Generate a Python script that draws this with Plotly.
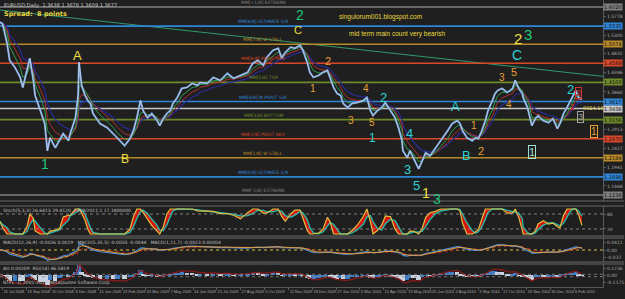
import plotly.graph_objects as go
import pandas as pd
import numpy as np

# ---------------- data ----------------
bars = [0, 3, 8, 11, 17, 23, 26, 31, 34, 38, 40, 46, 51, 54, 57, 63, 68, 72, 78, 80,
        86, 89, 90, 93, 97, 100, 103, 106, 114, 122, 129, 134, 142, 148, 152, 156, 160, 163, 168, 173,
        179, 182, 186, 190, 194, 197, 202, 207, 213, 219, 225, 228, 236, 243, 251, 259, 266, 274, 282, 288,
        294, 300, 304, 311, 317, 321, 325, 331, 336, 342, 345, 350, 353, 357, 363, 368, 373, 376, 380, 384,
        388, 391, 396, 401, 407, 414, 418, 422, 425, 430, 435, 439, 445, 450, 454, 458, 459, 464, 467, 471,
        477, 481, 485, 490, 496, 502, 510, 515, 521, 524, 527, 532, 538, 542, 545, 549, 553, 556, 561, 564,
        567, 572, 578, 584, 587, 591, 595, 596, 601, 604, 606, 610, 613, 619, 625, 630, 635, 638, 642, 646,
        650, 653, 656, 659, 663]
close = [1.5637, 1.5586, 1.5100, 1.4665, 1.4486, 1.4230, 1.3975, 1.4409, 1.4716, 1.4154, 1.3770, 1.3386, 1.3054, 1.2363, 1.2695, 1.2440, 1.2619, 1.2798, 1.2619, 1.2798,
         1.3207, 1.3770, 1.4614, 1.4026, 1.3770, 1.3642, 1.3565, 1.3309, 1.3054, 1.2951, 1.2798, 1.2670, 1.2491, 1.2670, 1.2874, 1.3207, 1.3642, 1.3386, 1.3207, 1.3309,
         1.3130, 1.3002, 1.3182, 1.3309, 1.3386, 1.3565, 1.3719, 1.3949, 1.3975, 1.4077, 1.4026, 1.4102, 1.4077, 1.4230, 1.4154, 1.4333, 1.4205, 1.4281, 1.4358, 1.4588,
         1.4665, 1.4537, 1.4742, 1.4921, 1.4972, 1.4716, 1.4870, 1.4998, 1.4972, 1.5049, 1.4921, 1.4614, 1.4358, 1.4230, 1.4281, 1.4358, 1.4409, 1.4230, 1.3975, 1.3821,
         1.3770, 1.3565, 1.3463, 1.3565, 1.3591, 1.3642, 1.3719, 1.3386, 1.3258, 1.3386, 1.3463, 1.3591, 1.3386, 1.3207, 1.2951, 1.2619, 1.2363, 1.2184, 1.2363, 1.2184,
         1.1902, 1.2107, 1.2312, 1.2235, 1.2440, 1.2619, 1.2874, 1.3054, 1.3130, 1.3054, 1.2874, 1.2695, 1.2619, 1.2695, 1.2670, 1.2874, 1.3130, 1.3386, 1.3642, 1.3821,
         1.3898, 1.3949, 1.3847, 1.3949, 1.4154, 1.3949, 1.3821, 1.3719, 1.3463, 1.3207, 1.3002, 1.3182, 1.3258, 1.3130, 1.3079, 1.3182, 1.2926, 1.3054, 1.3309, 1.3463,
         1.3642, 1.3770, 1.3898, 1.3719, 1.3668]

level_prices = [1.6020, 1.5535, 1.5074, 1.4589, 1.4103, 1.3617, 1.3438, 1.3156, 1.2670, 1.2184, 1.1698, 1.1238]
level_colors = ['#808080', '#2f86d8', '#b8892a', '#d9482a', '#6f8a2a', '#2f86d8', '#c8c8c8',
                '#6f8a2a', '#d9482a', '#b8892a', '#2f86d8', '#808080']
level_names = ['MM[+1/8] EXTREME', 'MM[8/8] ULTIMATE S/R', 'MM[7/8] W STALL', 'MM[6/8] PIVOT REV',
               'MM[5/8] TOP', 'MM[4/8] M PIVOT S/R', '', 'MM[3/8] BOTTOM', 'MM[2/8] PIVOT REV',
               'MM[1/8] W STALL', 'MM[0/8] ULTIMATE S/R', 'MM[-1/8] EXTREME']
price_ticks = [1.5778, 1.5305, 1.4832, 1.4346, 1.3860, 1.2913, 1.2427, 1.1941, 1.1468]

trend_bars = [0, 687]
trend_prices = [1.5944, 1.4256]

tick_bars = [3, 30, 58, 85, 112, 139, 166, 193, 220, 247, 274, 301, 329, 356, 383,
             410, 437, 464, 491, 518, 545, 572, 600, 627, 654]
tick_text = ['21 Jul 2008', '13 Sep 2008', '20 Oct 2008', '8 Dec 2008', '15 Jan 2009', '22 Feb 2009',
             '31 Mar 2009', '7 May 2009', '14 Jun 2009', '21 Jul 2009', '27 Aug 2009', '5 Oct 2009',
             '11 Nov 2009', '18 Dec 2009', '27 Jan 2010', '5 Mar 2010', '12 Apr 2010', '19 May 2010',
             '25 Jun 2010', '2 Aug 2010', '9 Sep 2010', '17 Oct 2010', '23 Nov 2010', '30 Dec 2010',
             '6 Feb 2011']

# Elliott wave labels: bar, price, text, colour, size, boxed
wave_bar = [88, 51, 142, 342, 340, 590, 601, 589, 357, 374, 400, 417, 424, 437, 424, 467, 464, 475, 485, 498,
            519, 540, 532, 548, 572, 586, 580, 650, 606, 677, 659, 652, 661]
wave_price = [1.4793, 1.2031, 1.2159, 1.5816, 1.5432, 1.5228, 1.5330, 1.4793, 1.3949, 1.4640, 1.3131, 1.3949,
              1.3080, 1.3719, 1.2696, 1.2798, 1.1878, 1.1468, 1.1289, 1.1136,
              1.3489, 1.3003, 1.2236, 1.2363, 1.4230, 1.4358, 1.3540, 1.3924, 1.2338, 1.2849, 1.3821, 1.3489, 1.3233]
wave_text = ['A', '1', 'B', '2', 'C', '2', '3', 'C', '1', '2', '3', '4', '5', '2', '1', '4', '3', '5', '1', '3',
             'A', '1', 'B', '2', '3', '5', '4', '2', '1', '1', '2', '1', '3']
wave_color = ['#f0e040', '#22c87a', '#f0e040', '#22c87a', '#f0e040', '#f0e040', '#22c87a', '#2ad4d4',
              '#e8a030', '#e8a030', '#e8a030', '#e8a030', '#e8a030', '#2ad4d4', '#2ad4d4', '#2ad4d4',
              '#2ad4d4', '#2ad4d4', '#f0e040', '#22c87a',
              '#2ad4d4', '#e8a030', '#2ad4d4', '#e8a030', '#e8a030', '#e8a030', '#e8a030', '#2ad4d4',
              '#a0e0d0', '#e8a030', '#d03030', '#d03030', '#a0a0a0']
wave_size = [13, 14, 12, 14, 11, 15, 15, 14, 10, 11, 10, 10, 10, 13, 12, 13, 13, 13, 14, 14,
             13, 10, 13, 11, 10, 11, 10, 13, 11, 10, 9, 9, 9]
wave_box = [0] * 28 + [1, 1, 1, 0, 1]

# ---------------- derived indicators ----------------
s = pd.Series(close, dtype=float)
ma_fast = s.ewm(span=3, adjust=False).mean()
ma_mid = s.ewm(span=5, adjust=False).mean()
ma_slow = s.ewm(span=8, adjust=False).mean()

hh = s.rolling(5, min_periods=1).max()
ll = s.rolling(5, min_periods=1).min()
rng = (hh - ll).replace(0, np.nan)
stoch_k = (100 * (s - ll) / rng).fillna(50).rolling(2, min_periods=1).mean()
stoch_d = stoch_k.rolling(3, min_periods=1).mean()

macd = s.ewm(span=4, adjust=False).mean() - s.ewm(span=9, adjust=False).mean()
macd_sig = macd.ewm(span=3, adjust=False).mean()
macd_slow = macd.ewm(span=7, adjust=False).mean()

hist = s - s.ewm(span=6, adjust=False).mean()
hist_line = hist.ewm(span=3, adjust=False).mean()
hist_cols = ['#3d7cc9' if i == 0 or hist.iloc[i] >= hist.iloc[i - 1] else '#c9d2e0' for i in range(len(hist))]

# ---------------- figure ----------------
BG = '#1f1f1f'
GRID = '#5a5a5a'
TXT = '#a8a8a8'
FONT = 'DejaVu Sans'
X_RANGE = [0, 687]

fig = go.Figure()

fig.add_trace(go.Scatter(x=trend_bars, y=trend_prices, mode='lines',
                         line=dict(color='#2e9a6a', width=1), yaxis='y', hoverinfo='skip'))
for p, c in zip(level_prices, level_colors):
    fig.add_trace(go.Scatter(x=X_RANGE, y=[p, p], mode='lines', line=dict(color=c, width=1.6),
                             yaxis='y', hoverinfo='skip'))

fig.add_trace(go.Scatter(x=bars, y=ma_slow, mode='lines', line=dict(color='#2a2a9a', width=1.2), yaxis='y'))
fig.add_trace(go.Scatter(x=bars, y=ma_mid, mode='lines', line=dict(color='#b03030', width=1), yaxis='y'))
fig.add_trace(go.Scatter(x=bars, y=ma_fast, mode='lines', line=dict(color='#2fa04a', width=1), yaxis='y'))
fig.add_trace(go.Scatter(x=bars, y=close, mode='lines', line=dict(color='#6f9bd2', width=2.0), yaxis='y'))
fig.add_trace(go.Scatter(x=bars, y=close, mode='lines', line=dict(color='#dfe8f4', width=0.6), yaxis='y'))

# stochastic pane
fig.add_trace(go.Scatter(x=bars, y=stoch_d, mode='lines', line=dict(color='#25b8a8', width=1.4), yaxis='y2'))
fig.add_trace(go.Scatter(x=bars, y=stoch_k, mode='lines', line=dict(color='#e0c040', width=1.2),
                         fill='tonexty', fillcolor='rgba(235,20,10,0.9)', yaxis='y2'))
for lv in [20, 80]:
    fig.add_trace(go.Scatter(x=X_RANGE, y=[lv, lv], mode='lines',
                             line=dict(color='#9a9a9a', width=0.8, dash='dot'), yaxis='y2'))

# MACD pane
fig.add_trace(go.Scatter(x=X_RANGE, y=[0, 0], mode='lines',
                         line=dict(color='#d8c040', width=1, dash='dot'), yaxis='y3'))
fig.add_trace(go.Scatter(x=bars, y=macd_slow, mode='lines', line=dict(color='#a02020', width=1.2, dash='dot'), yaxis='y3'))
fig.add_trace(go.Scatter(x=bars, y=macd, mode='lines', line=dict(color='#4a8ad8', width=1.2), yaxis='y3'))
fig.add_trace(go.Scatter(x=bars, y=macd_sig, mode='lines', line=dict(color='#e0a040', width=1), yaxis='y3'))

# third pane
fig.add_trace(go.Bar(x=bars, y=hist, marker=dict(color=hist_cols, line=dict(width=0)), width=5, yaxis='y4'))
fig.add_trace(go.Scatter(x=bars, y=hist_line * 1.6, mode='lines', line=dict(color='#8a1a1a', width=1.3), yaxis='y4'))
for lv in [-0.012, 0.012]:
    fig.add_trace(go.Scatter(x=X_RANGE, y=[lv, lv], mode='lines',
                             line=dict(color='#8a8a8a', width=0.8, dash='dot'), yaxis='y4'))

macd_max = float(max(abs(macd.min()), abs(macd.max()), abs(macd_slow.max()))) * 1.15
hist_max = float(max(abs(hist.min()), abs(hist.max()))) * 1.1

ax_common = dict(showgrid=False, zeroline=False, side='right', color=TXT,
                 tickfont=dict(size=4.5, family=FONT, color=TXT), ticks='outside', ticklen=2,
                 tickcolor=GRID, showline=True, linecolor=GRID, linewidth=1, mirror=True)

fig.update_layout(
    width=625, height=299, margin=dict(l=0, r=22, t=0, b=12),
    paper_bgcolor=BG, plot_bgcolor=BG, showlegend=False, bargap=0,
    font=dict(family=FONT, color=TXT, size=6),
    xaxis=dict(range=X_RANGE, showgrid=False, zeroline=False, anchor='y4',
               tickvals=tick_bars, ticktext=tick_text, ticklabelposition='outside right', tickangle=0,
               tickfont=dict(size=4, family='Liberation Sans', color=TXT), ticks='outside', ticklen=2,
               tickcolor=GRID, showline=True, linecolor=GRID, mirror=False),
    yaxis=dict(domain=[0.2997, 1.0], range=[1.1085, 1.6200], anchor='x', tickvals=price_ticks,
               tickformat='.4f', **ax_common),
    yaxis2=dict(domain=[0.1777, 0.2822], range=[-8, 112], anchor='x',
                tickvals=[20, 80], ticktext=['20', '80'], **ax_common),
    yaxis3=dict(domain=[0.0871, 0.1707], range=[-macd_max, macd_max], anchor='x',
                tickvals=[-macd_max * 0.62, 0, macd_max * 0.62], ticktext=['-0.037', '0.00', '0.0411'], **ax_common),
    yaxis4=dict(domain=[0.0, 0.0801], range=[-hist_max, hist_max], anchor='x',
                tickvals=[-hist_max * 0.6, 0, hist_max * 0.6],
                ticktext=['-0.1175', '0.00', '0.1236'], **ax_common),
)

ann = []
for p, c, n in zip(level_prices, level_colors, level_names):
    if n:
        ann.append(dict(x=300, y=p, xref='x', yref='y', text=n, showarrow=False, yanchor='bottom',
                        font=dict(size=4.5, color=c, family=FONT)))
    ann.append(dict(x=1.0, y=p, xref='paper', yref='y', text='%.4f' % p, showarrow=False, xanchor='left',
                    bgcolor=c, borderpad=0, font=dict(size=5, color='#101010', family=FONT)))

for b, p, t, c, sz, bx in zip(wave_bar, wave_price, wave_text, wave_color, wave_size, wave_box):
    d = dict(x=b, y=p, xref='x', yref='y', text=t, showarrow=False,
             font=dict(size=sz, color=c, family='Liberation Sans'))
    if bx:
        d.update(bordercolor=c, borderwidth=1, borderpad=0)
    ann.append(d)

ann += [
    dict(x=0.004, y=1.0, xref='paper', yref='paper', text='EURUSD,Daily  1.3638 1.3678 1.3609 1.3677',
         showarrow=False, xanchor='left', yanchor='top', font=dict(size=5, color='#c8c8c8', family=FONT)),
    dict(x=0.004, y=0.972, xref='paper', yref='paper', text='<b>Spread:  8 points</b>',
         showarrow=False, xanchor='left', yanchor='top', font=dict(size=6.5, color='#e8d840', family=FONT)),
    dict(x=433, y=1.5765, xref='x', yref='y', text='singulorum001.blogspot.com', showarrow=False,
         font=dict(size=6.5, color='#e8d840', family='Liberation Sans')),
    dict(x=452, y=1.5330, xref='x', yref='y', text='mid term main count very bearish', showarrow=False,
         font=dict(size=6.5, color='#e8d840', family='Liberation Sans')),
    dict(x=676, y=1.3450, xref='x', yref='y', text='0024.16', showarrow=False,
         font=dict(size=5, color='#e8d840', family=FONT)),
    dict(x=0.002, y=0.2822, xref='paper', yref='paper', text='Stoch(5,3,3) 26.6413 29.4120  2008/2011.1 17.1800000',
         showarrow=False, xanchor='left', yanchor='top', font=dict(size=4.5, color='#c0c0c0', family=FONT)),
    dict(x=0.002, y=0.1707, xref='paper', yref='paper',
         text='MACD(12,26,9) -0.0026 0.0019   MACD(5,35,5) -0.0035 -0.0044   MACD(1,11,7) -0.0023 0.00004',
         showarrow=False, xanchor='left', yanchor='top', font=dict(size=4.5, color='#c0c0c0', family=FONT)),
    dict(x=0.002, y=0.0801, xref='paper', yref='paper', text='AO 0.00209  RSI(14) 46.5819',
         showarrow=False, xanchor='left', yanchor='top', font=dict(size=4.5, color='#c0c0c0', family=FONT)),
    dict(x=0.002, y=0.0, xref='paper', yref='paper', text='NTFL  © 2001-2010 MetaQuotes Software Corp.',
         showarrow=False, xanchor='left', yanchor='bottom', font=dict(size=4.5, color='#c0c0c0', family=FONT)),
]
fig.update_layout(annotations=ann)

shapes = []
for yy in [0.2997, 0.2822, 0.1777, 0.1707, 0.0871, 0.0801]:
    shapes.append(dict(type='line', xref='paper', yref='paper', x0=0, x1=1.035, y0=yy, y1=yy,
                       line=dict(color='#6a6a6a', width=1.2)))
fig.update_layout(shapes=shapes)

fig.write_html('out.html')
